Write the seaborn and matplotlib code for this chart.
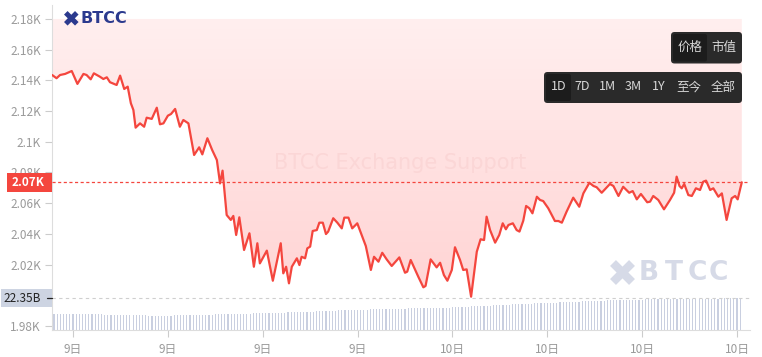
import numpy as np
import pandas as pd
import matplotlib
matplotlib.use("Agg")
import matplotlib.pyplot as plt
import seaborn as sns
from matplotlib.patches import FancyBboxPatch, Rectangle, PathPatch
from matplotlib.colors import LinearSegmentedColormap
from matplotlib.lines import Line2D

# ---------------- data ----------------
# time in hours counted from 9日 00:00
time_h = [11.34, 11.48, 11.59, 11.75, 11.96, 12.14, 12.33, 12.43, 12.56, 12.66,
          12.85, 12.96, 13.07, 13.17, 13.38, 13.49, 13.62, 13.73, 13.83, 13.91,
          13.98, 14.12, 14.25, 14.33, 14.49, 14.65, 14.75, 14.86, 15.00, 15.10,
          15.23, 15.38, 15.49, 15.65, 15.83, 15.99, 16.09, 16.25, 16.40, 16.55,
          16.65, 16.73, 16.86, 16.99, 17.07, 17.16, 17.26, 17.41, 17.58, 17.72,
          17.83, 17.91, 18.13, 18.32, 18.57, 18.65, 18.74, 18.83, 18.92, 19.08,
          19.16, 19.23, 19.34, 19.41, 19.50, 19.58, 19.71, 19.79, 19.90, 20.00,
          20.07, 20.23, 20.36, 20.50, 20.58, 20.71, 20.83, 20.99, 21.13, 21.26,
          21.42, 21.52, 21.66, 21.78, 21.92, 22.08, 22.32, 22.50, 22.57, 22.68,
          22.92, 23.08, 23.15, 23.31, 23.50, 23.61, 23.73, 23.84, 23.98, 24.08,
          24.24, 24.34, 24.45, 24.59, 24.77, 24.89, 25.00, 25.08, 25.19, 25.35,
          25.48, 25.59, 25.69, 25.77, 25.91, 26.03, 26.12, 26.24, 26.33, 26.43,
          26.53, 26.67, 26.77, 26.87, 27.03, 27.24, 27.35, 27.46, 27.61, 27.82,
          28.01, 28.14, 28.33, 28.46, 28.56, 28.72, 28.98, 29.09, 29.25, 29.40,
          29.59, 29.70, 29.83, 29.96, 30.16, 30.25, 30.35, 30.51, 30.69, 30.88,
          31.01, 31.09, 31.18, 31.25, 31.33, 31.46, 31.57, 31.70, 31.83, 31.93,
          32.02, 32.15, 32.25, 32.41, 32.52, 32.67, 32.83, 32.94, 33.02, 33.15]

price = [2143.5, 2141.4, 2143.5, 2144.2, 2146.1, 2137.7, 2144.2, 2143.5, 2140.7, 2144.6,
         2142.4, 2140.9, 2142.0, 2138.8, 2137.0, 2143.1, 2134.4, 2135.9, 2125.1, 2120.7,
         2109.2, 2112.0, 2109.8, 2115.7, 2114.9, 2122.2, 2111.4, 2112.0, 2117.0, 2118.1,
         2121.4, 2109.8, 2114.2, 2112.0, 2091.4, 2096.4, 2091.8, 2102.3, 2094.7, 2088.1,
         2072.9, 2081.2, 2052.3, 2049.1, 2051.7, 2039.3, 2050.8, 2029.5, 2040.4, 2018.6,
         2033.9, 2020.8, 2029.1, 2009.5, 2033.9, 2014.3, 2018.6, 2007.8, 2018.6, 2024.1,
         2019.7, 2025.1, 2024.1, 2030.6, 2031.7, 2041.9, 2042.5, 2047.3, 2047.3, 2039.9,
         2041.5, 2050.2, 2047.3, 2043.6, 2050.6, 2050.6, 2043.6, 2046.9, 2039.3, 2032.1,
         2016.5, 2025.1, 2021.9, 2027.7, 2023.4, 2019.1, 2024.7, 2014.7, 2015.4, 2023.0,
         2012.1, 2005.2, 2006.1, 2023.4, 2018.2, 2021.2, 2013.2, 2009.5, 2016.5, 2031.3,
         2023.0, 2016.5, 2016.9, 1999.1, 2028.4, 2036.5, 2036.0, 2051.2, 2042.5, 2034.3,
         2039.3, 2046.9, 2043.0, 2045.8, 2046.9, 2042.5, 2041.5, 2048.6, 2058.2, 2056.7,
         2053.4, 2064.2, 2062.1, 2061.4, 2056.7, 2048.4, 2048.4, 2047.3, 2054.5, 2063.6,
         2057.7, 2066.4, 2073.3, 2071.2, 2070.4, 2066.8, 2072.5, 2071.2, 2064.7, 2070.7,
         2066.8, 2067.9, 2062.5, 2066.0, 2060.6, 2061.0, 2064.7, 2062.1, 2056.0, 2062.1,
         2066.8, 2077.3, 2071.2, 2069.7, 2072.5, 2065.3, 2064.7, 2069.7, 2068.6, 2074.0,
         2074.7, 2068.6, 2069.7, 2064.2, 2066.4, 2049.1, 2063.2, 2064.7, 2062.5, 2073.6]

# volume in billions, one value per bar
volume_b = [
    11.1, 11.1, 11.0, 11.1, 11.1, 11.0, 11.1, 11.0, 11.0, 11.1, 11.0, 11.0, 11.0, 11.0, 11.0,
    11.0, 10.9, 10.9, 10.8, 10.8, 10.7, 10.7, 10.6, 10.6, 10.5, 10.5, 10.4, 10.4, 10.3, 10.3,
    10.2, 10.2, 10.2, 10.2, 10.2, 10.2, 10.2, 10.2, 10.3, 10.3, 10.3,
    10.3, 10.4, 10.4, 10.5, 10.6, 10.6, 10.7, 10.8, 10.8, 10.9, 11.0, 11.0, 11.1, 11.2, 11.2, 11.3,
    11.3, 11.4, 11.4, 11.5, 11.6, 11.6, 11.7, 11.7, 11.8, 11.9, 11.9, 12.0, 12.1, 12.1, 12.2, 12.3,
    12.3, 12.4, 12.5, 12.6, 12.6, 12.7, 12.8, 12.9, 13.0, 13.0, 13.1, 13.2, 13.3, 13.4, 13.5, 13.6,
    13.7, 13.8, 13.8, 13.9, 14.0, 14.0, 14.1, 14.2, 14.3, 14.3, 14.4, 14.5, 14.6, 14.7, 14.7,
    14.8, 14.9, 14.9, 15.0, 15.0, 15.0, 15.1, 15.1, 15.2, 15.2, 15.3, 15.3, 15.3, 15.4, 15.4,
    15.5, 15.5, 15.6, 15.6, 15.7, 15.7,
    15.8, 15.9, 16.0, 16.1, 16.3, 16.4, 16.5, 16.6, 16.7, 16.8, 16.9, 17.0, 17.1, 17.2, 17.3,
    17.4, 17.5, 17.7, 17.8, 17.9, 18.0,
    18.1, 18.2, 18.3, 18.4, 18.5, 18.6, 18.7, 18.8, 18.9, 18.9, 19.0, 19.1, 19.2, 19.3, 19.4,
    19.5, 19.6, 19.7, 19.8, 19.9, 20.0,
    20.1, 20.2, 20.3, 20.4, 20.4, 20.5, 20.6, 20.7, 20.8, 20.8, 20.9, 21.0, 21.0, 21.1, 21.2,
    21.2, 21.3, 21.4, 21.4, 21.5, 21.6,
    21.6, 21.7, 21.7, 21.7, 21.8, 21.8, 21.8, 21.9, 21.9, 21.9, 22.0, 22.0, 22.0, 22.0, 22.1,
    22.1, 22.1, 22.1, 22.2, 22.2, 22.2, 22.2, 22.2, 22.3, 22.3, 22.3, 22.3, 22.3, 22.35, 22.35]

vol_start_h, vol_end_h = 11.40, 33.10

x_tick_hours = [12, 15, 18, 21, 24, 27, 30, 33]
x_tick_labels = ["9日", "9日", "9日", "9日", "10日", "10日", "10日", "10日"]
y_ticks = [1980, 2020, 2040, 2060, 2080, 2100, 2120, 2140, 2160, 2180]
y_tick_labels = ["1.98K", "2.02K", "2.04K", "2.06K", "2.08K", "2.1K", "2.12K",
                 "2.14K", "2.16K", "2.18K"]
last_price_label = "2.07K"
volume_label = "22.35B"
mode_buttons = ["价格", "市值"]
range_buttons = ["1D", "7D", "1M", "3M", "1Y", "至今", "全部"]
watermark_text = "BTCC Exchange Support"
brand = "BTCC"

# ---------------- style ----------------
sns.set_theme(style="white")
plt.rcParams['font.family'] = ['Noto Sans CJK SC', 'DejaVu Sans']

W, H = 762, 357
fig = plt.figure(figsize=(W / 100, H / 100), dpi=100)
fig.patch.set_facecolor("white")
PX = fig.dpi_scale_trans  # inches


def P(px, py):
    """pixel (from top-left) -> inches for dpi_scale_trans"""
    return px / 100.0, (H - py) / 100.0


ax_left, ax_right, ax_top, ax_bot = 52, 750, 5, 330
rect = [ax_left / W, 1 - ax_bot / H, (ax_right - ax_left) / W, (ax_bot - ax_top) / H]
xlim = (11.336, 33.41)
ylim = (1977.4, 2189.1)

# volume axes (below)
ax_vol = fig.add_axes(rect)
vol_df = pd.DataFrame({"t": np.linspace(vol_start_h, vol_end_h, len(volume_b)),
                       "v": volume_b})
ax_vol.bar(vol_df["t"], vol_df["v"], width=0.036, color="#c9cfe0", linewidth=0)
ax_vol.set_xlim(*xlim)
ax_vol.set_ylim(0, max(volume_b) * (ax_bot - ax_top) / 31.7)
ax_vol.axhline(max(volume_b), color="#cfcfcf", lw=0.8, ls=(0, (3, 3)))
ax_vol.axis("off")

# price axes (on top)
ax = fig.add_axes(rect)
ax.patch.set_alpha(0)

df = pd.DataFrame({"t": time_h, "p": price})
coll = ax.fill_between(df["t"], df["p"], y_ticks[-1], facecolor="none", edgecolor="none")
path = coll.get_paths()[0]
clip = PathPatch(path, transform=ax.transData, facecolor="none", edgecolor="none")
ax.add_patch(clip)
cmap = LinearSegmentedColormap.from_list("pinkgrad", ["#ffefef", "#ffd3d3"])
grad = np.linspace(0, 1, 256).reshape(-1, 1)
im = ax.imshow(grad, cmap=cmap, extent=[df["t"].min(), df["t"].max(), 1995, y_ticks[-1]],
               origin="upper", aspect="auto", zorder=1, interpolation="bilinear")
im.set_clip_path(clip)

sns.lineplot(data=df, x="t", y="p", ax=ax, color="#f4463e", linewidth=1.6, zorder=4)
ax.axhline(price[-1], color="#f4463e", lw=0.9, ls=(0, (2.5, 2)), zorder=3)

ax.set_xlim(*xlim)
ax.set_ylim(*ylim)
ax.set_xlabel("")
ax.set_ylabel("")
ax.grid(False)
ax.set_xticks(x_tick_hours)
ax.set_xticklabels(x_tick_labels)
ax.set_yticks(y_ticks)
ax.set_yticklabels(y_tick_labels)
ax.tick_params(axis="y", left=True, length=5, width=0.8, color="#cccccc",
               labelcolor="#9a9a9a", labelsize=8.5, pad=3)
ax.tick_params(axis="x", bottom=True, length=5, width=0.8, color="#cccccc",
               labelcolor="#9a9a9a", labelsize=8.5, pad=4)
for s in ["top", "right"]:
    ax.spines[s].set_visible(False)
for s in ["left", "bottom"]:
    ax.spines[s].set_color("#dddddd")
    ax.spines[s].set_linewidth(0.8)

# watermark in the middle
fig.text(400 / W, 1 - 163 / H, watermark_text, ha="center", va="center",
         fontsize=15, color="#fbd6d6", family="DejaVu Sans", zorder=2)

# ---------------- decorations ----------------
def x_icon(cx, cy, s, lw, color):
    x0, y0 = P(cx - s / 2, cy - s / 2)
    x1, y1 = P(cx + s / 2, cy + s / 2)
    fig.add_artist(Line2D([x0, x1], [y0, y1], transform=PX, color=color,
                          lw=lw, solid_capstyle="butt"))
    fig.add_artist(Line2D([x0, x1], [y1, y0], transform=PX, color=color,
                          lw=lw, solid_capstyle="butt"))


# top-left logo
x_icon(71.3, 18.3, 11, 3.6, "#2b3a8e")
bx, by = P(81, 18.5)
fig.text(bx, by, brand, transform=PX, ha="left", va="center", fontsize=11.5,
         fontweight="bold", color="#2b3a8e", family="DejaVu Sans")

# bottom-right watermark logo
x_icon(622.5, 272.5, 19, 6, "#d6dae7")
for ch, cxp in zip(brand, [649, 673.5, 697, 718.5]):
    tx, ty = P(cxp, 273)
    fig.text(tx, ty, ch, transform=PX, ha="center", va="center", fontsize=19,
             fontweight="bold", color="#d6dae7", family="DejaVu Sans")

# buttons
def box(x0, y0, x1, y1, color, r=0.035):
    a, b = P(x0, y1)
    fig.add_artist(FancyBboxPatch((a, b), (x1 - x0) / 100, (y1 - y0) / 100,
                                  boxstyle=f"round,pad=0,rounding_size={r}",
                                  transform=PX, facecolor=color, edgecolor="none"))


box(671, 32, 742, 63.5, "#2a2a2a")
box(673, 34, 707, 61.5, "#1c1c1c", r=0.02)
for lab, cxp in zip(mode_buttons, [690, 723.5]):
    tx, ty = P(cxp, 47.5)
    fig.text(tx, ty, lab, transform=PX, ha="center", va="center", fontsize=9,
             color="#d8d8d8")

box(544, 72, 742, 103, "#2a2a2a")
box(546, 74, 571, 101, "#1c1c1c", r=0.02)
for lab, cxp in zip(range_buttons, [558.3, 582, 607, 633, 658.5, 689, 723.3]):
    tx, ty = P(cxp, 87)
    fig.text(tx, ty, lab, transform=PX, ha="center", va="center", fontsize=9,
             color="#d8d8d8")

# last price tag
a, b = P(7.3, 191.7)
fig.add_artist(Rectangle((a, b), (51.7 - 7.3) / 100, (191.7 - 173.3) / 100,
                         transform=PX, facecolor="#f4463e", edgecolor="none"))
tx, ty = P(28.5, 182.5)
fig.text(tx, ty, last_price_label, transform=PX, ha="center", va="center",
         fontsize=8.5, color="white", fontweight="bold")

# volume tag
a, b = P(1, 307.3)
fig.add_artist(Rectangle((a, b), (51.7 - 1) / 100, (307.3 - 289) / 100,
                         transform=PX, facecolor="#cdd4e2", edgecolor="none"))
tx, ty = P(22.5, 298.3)
fig.text(tx, ty, volume_label, transform=PX, ha="center", va="center",
         fontsize=8.5, color="#222222")
x0, y0 = P(47, 298.3)
x1, _ = P(52, 298.3)
fig.add_artist(Line2D([x0, x1], [y0, y0], transform=PX, color="#222222", lw=0.9))

fig.savefig("out.png", dpi=100, facecolor="white")
